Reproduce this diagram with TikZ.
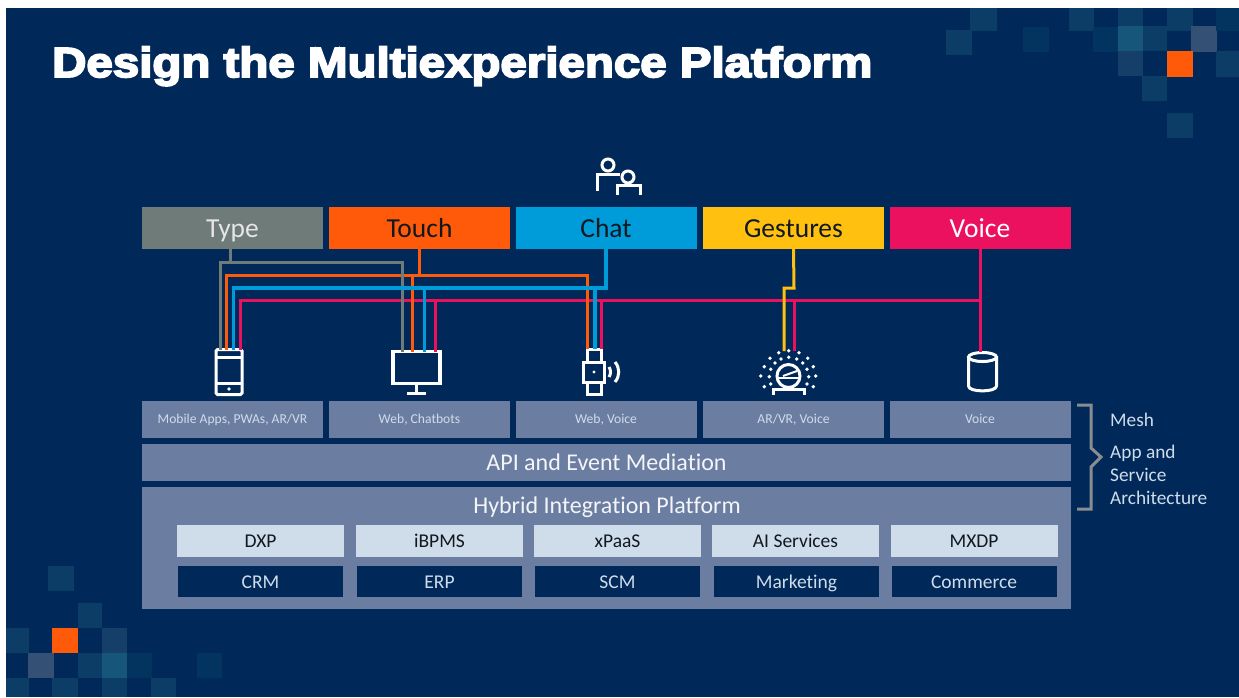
\documentclass[tikz,border=0pt]{standalone}
\usepackage{fontspec}
\setmainfont[Ligatures=NoCommon]{Carlito}
\newfontfamily\titlefont[BoldFeatures={FakeBold=4.5,FakeStretch=1.13}]{Liberation Sans}
\definecolor{slidebg}{HTML}{00295A}
\definecolor{tileA}{HTML}{03335F}
\definecolor{tileB}{HTML}{0B3D66}
\definecolor{tileC}{HTML}{16567A}
\definecolor{tileD}{HTML}{345075}
\definecolor{tileE}{HTML}{153F68}
\definecolor{accent}{HTML}{FF5A0A}
\definecolor{typegray}{HTML}{6E7B78}
\definecolor{chatblue}{HTML}{009CDA}
\definecolor{gestyellow}{HTML}{FFC00F}
\definecolor{voicepink}{HTML}{EC115E}
\definecolor{slate}{HTML}{6B7EA2}
\definecolor{pale}{HTML}{CFDCEA}
\definecolor{bracketgray}{HTML}{8A8D8F}
\definecolor{darktext}{HTML}{101820}
\tikzset{
  modebox/.style={minimum width=181,minimum height=42,inner sep=0,outer sep=0,font=\fontsize{27.5}{28}\selectfont,text height=19.5,text depth=1.5},
  channelbox/.style={fill=slate,minimum width=181,minimum height=37,inner sep=0,outer sep=0,text=pale,font=\fontsize{13.6}{14}\selectfont,text height=10,text depth=2},
  layerbox/.style={fill=slate,minimum width=929,inner sep=0,outer sep=0,text=white!92!slate,font=\fontsize{24}{24}\selectfont},
  palebox/.style={fill=pale,minimum width=167,minimum height=32,inner sep=0,outer sep=0,text=darktext,font=\fontsize{19.5}{20}\selectfont,text height=15,text depth=2},
  darkbox/.style={fill=slidebg,minimum width=165,minimum height=31,inner sep=0,outer sep=0,text=pale,font=\fontsize{19.5}{20}\selectfont,text height=15,text depth=2},
  sidelabel/.style={anchor=base west,inner sep=0,text=pale,font=\fontsize{19.3}{20}\selectfont},
  wire/.style={line width=3},
  icon/.style={white,line width=3},
  iconnode/.style={draw=white,line width=3,inner sep=0,outer sep=0}
}
\begin{document}
\begin{tikzpicture}[x=1pt,y=-1pt]
\useasboundingbox (0,0) rectangle (1239,697);
\fill [white] (0,0) rectangle (1239,697);
\fill [slidebg] (6,8) rectangle (1239,697);

% top right tiles
\fill [tileB] (970,8) rectangle (997,31);
\fill [tileB] (946,30) rectangle (972,55);
\fill [tileA] (1023,27) rectangle (1049,52);
\fill [tileB] (1069,8) rectangle (1094,31);
\fill [tileA] (1093,27) rectangle (1118,52);
\fill [tileB] (1118,8) rectangle (1143,26);
\fill [tileC] (1118,26) rectangle (1143,51);
\fill [tileB] (1143,26) rectangle (1167,51);
\fill [tileB] (1167,8) rectangle (1193,31);
\fill [tileD] (1191,26) rectangle (1217,52);
\fill [tileA] (1216,8) rectangle (1239,31);
\fill [tileE] (1118,51) rectangle (1143,76);
\fill [accent] (1167,51) rectangle (1193,77);
\fill [tileB] (1216,51) rectangle (1239,77);
\fill [tileB] (1142,76) rectangle (1167,101);
\fill [tileB] (1167,113) rectangle (1193,138);

% bottom left tiles
\fill [tileB] (48,566) rectangle (74,591);
\fill [tileB] (78,603) rectangle (102,628);
\fill [tileB] (6,628) rectangle (29,653);
\fill [accent] (52,628) rectangle (78,653);
\fill [tileE] (102,628) rectangle (127,653);
\fill [tileD] (28,653) rectangle (54,678);
\fill [tileB] (78,653) rectangle (102,678);
\fill [tileC] (102,653) rectangle (127,678);
\fill [tileA] (127,653) rectangle (152,678);
\fill [tileA] (197,653) rectangle (222,678);
\fill [tileB] (6,678) rectangle (29,697);
\fill [tileB] (52,678) rectangle (78,697);
\fill [tileB] (102,678) rectangle (127,697);
\fill [tileB] (151,678) rectangle (176,697);

\node [anchor=base west,inner sep=0,text=white,font=\titlefont\bfseries\fontsize{42}{42}\selectfont] (title) at (52,77) {Design the Multiexperience Platform};

% users icon
\draw [icon] (608,165) circle (6);
\draw [icon] (628,177) circle (6);
\draw [icon] (597,191) -- (597,174) -- (620,174);
\draw [icon] (617,195) -- (617,185) -- (640,185) -- (640,195);

% input modes
\node [modebox,fill=typegray,text=white!90!black] (type) at (232.5,228) {Type};
\node [modebox,fill=accent,text=darktext] (touch) at (419.5,228) {Touch};
\node [modebox,fill=chatblue,text=darktext] (chat) at (606,228) {Chat};
\node [modebox,fill=gestyellow,text=darktext] (gestures) at (793.5,228) {Gestures};
\node [modebox,fill=voicepink,text=white] (voice) at (980,228) {Voice};

% devices
\node [iconnode,rounded corners=1.5,minimum width=26,minimum height=45] (phone) at (229,372) {};
\draw [icon] (215,357) -- (243,357);
\draw [icon] (215,383) -- (243,383);
\fill [white] (229,389) circle (1.8);
\node [iconnode,line width=3.5,minimum width=47,minimum height=32] (monitor) at (416.5,367.5) {};
\draw [icon] (416.5,384) -- (416.5,393);
\draw [icon] (407,393) -- (426,393);
\node [iconnode,minimum width=14,minimum height=13] (strap) at (594.5,355.5) {};
\node [iconnode,minimum width=21,minimum height=20] (watch) at (594,372) {};
\node [iconnode,minimum width=14,minimum height=12] (strapb) at (594.5,388) {};
\fill [white] (594,372) circle (1.6);
\draw [icon] (609,367) .. controls (611,370) and (611,374) .. (609,377);
\draw [icon] (615,362) .. controls (620,368) and (620,376) .. (615,382);
\node [iconnode,circle,minimum size=23] (globe) at (788.5,376) {};
\draw [icon,line width=2] (776,378) -- (801,378);
\draw [icon,line width=2] (783,376) -- (797,371);
\draw [icon] (773,395) -- (773,389) -- (804,389) -- (804,395);
\fill [white] (760.7,376) circle (1.9);
\fill [white] (764.3,366.7) circle (1.9);
\fill [white] (770,358.3) circle (1.9);
\fill [white] (778.7,352.7) circle (1.9);
\fill [white] (788.7,350.7) circle (1.9);
\fill [white] (799,352.7) circle (1.9);
\fill [white] (807.7,358.3) circle (1.9);
\fill [white] (813.3,366.7) circle (1.9);
\fill [white] (815.7,376) circle (1.9);
\fill [white] (813.3,386.7) circle (1.9);
\fill [white] (764.3,386.7) circle (1.9);
\fill [white] (769.3,376.7) circle (1.9);
\fill [white] (770.7,369.3) circle (1.9);
\fill [white] (775,363) circle (1.9);
\fill [white] (781,359) circle (1.9);
\fill [white] (788.7,357.3) circle (1.9);
\fill [white] (796.7,359) circle (1.9);
\fill [white] (802.7,363) circle (1.9);
\fill [white] (807,369.3) circle (1.9);
\fill [white] (808.7,376.7) circle (1.9);
\fill [white] (807,384) circle (1.9);
\fill [white] (770.7,384) circle (1.9);
\coordinate (globetop) at (788.5,351);
\coordinate (canister) at (981.5,352);
\draw [icon] (982.5,357) circle [x radius=14,y radius=4.5];
\draw [icon] (968.5,357) -- (968.5,386) .. controls (968.5,392.5) and (996.5,392.5) .. (996.5,386) -- (996.5,357);

% wires
\coordinate (grayL) at (220,262);
\coordinate (grayR) at (402,262);
\coordinate (orangeL) at (226.5,275);
\coordinate (orangeM) at (412,275);
\coordinate (orangeR) at (587,275);
\coordinate (blueL) at (233.5,288);
\coordinate (blueM) at (424,288);
\coordinate (blueR) at (595,288);
\coordinate (pinkL) at (240,300);
\coordinate (pinkM) at (435,300);
\coordinate (pinkR) at (601,300);
\coordinate (pinkG) at (794,300);
\coordinate (yellowA) at (794,288);
\coordinate (yellowB) at (784,288);
\draw [wire,voicepink] (voice.south) |- (pinkL) -- (pinkL |- phone.north);
\draw [wire,voicepink] (pinkM) -- (pinkM |- monitor.north);
\draw [wire,voicepink] (pinkR) -- (pinkR |- strap.north);
\draw [wire,voicepink] (pinkG) -- (pinkG |- globetop);
\draw [wire,voicepink] (voice.south) -- (voice.south |- canister);
\draw [wire,accent] (touch.south) |- (orangeL) -- (orangeL |- phone.north);
\draw [wire,accent] (orangeM) -- (orangeM |- monitor.north);
\draw [wire,accent] (touch.south) |- (orangeR) -- (orangeR |- strap.north);
\draw [wire,typegray] ([xshift=-2.5]type.south) |- (grayL) -- (grayL |- phone.north);
\draw [wire,typegray] ([xshift=-2.5]type.south) |- (grayR) -- (grayR |- monitor.north);
\draw [wire,chatblue,line width=3.4] (chat.south) |- (blueL) -- (blueL |- phone.north);
\draw [wire,chatblue] (blueM) -- (blueM |- monitor.north);
\draw [wire,chatblue,line width=3.4] (blueR) -- (blueR |- strap.north);
\draw [wire,gestyellow] (gestures.south) -- (yellowA) -- (yellowB) -- (yellowB |- globetop);

% channels
\node [channelbox] (mobile) at (232.5,419.5) {Mobile Apps, PWAs, AR/VR};
\node [channelbox] (web) at (419.5,419.5) {Web, Chatbots};
\node [channelbox] (webvoice) at (606,419.5) {Web, Voice};
\node [channelbox] (arvr) at (793.5,419.5) {AR/VR, Voice};
\node [channelbox] (voiceonly) at (980,419.5) {Voice};

\node [layerbox,minimum height=37] (api) at (606.5,462.5) {API and Event Mediation};
\node [layerbox,minimum height=122] (hip) at (606.5,548) {};
\node [anchor=center,inner sep=0,text=white!92!slate,font=\fontsize{24}{24}\selectfont] (hiplabel) at (607,507) {Hybrid Integration Platform};

\node [palebox] (dxp) at (260.5,541) {DXP};
\node [palebox] (ibpms) at (439.5,541) {iBPMS};
\node [palebox] (xpaas) at (617.5,541) {xPaaS};
\node [palebox] (ai) at (795.5,541) {AI Services};
\node [palebox] (mxdp) at (974,541) {MXDP};
\node [darkbox] (crm) at (260.5,581.5) {CRM};
\node [darkbox] (erp) at (439.5,581.5) {ERP};
\node [darkbox] (scm) at (617.5,581.5) {SCM};
\node [darkbox] (marketing) at (796.5,581.5) {Marketing};
\node [darkbox] (commerce) at (974,581.5) {Commerce};

% bracket
\draw [bracketgray,line width=3] (1077,405) -- (1091,405) -- (1091,448) -- (1101,457) -- (1091,467) -- (1091,509) -- (1077,509);
\node [sidelabel] (mesh) at (1110,426) {Mesh};
\node [sidelabel] (appand) at (1110,458) {App and};
\node [sidelabel] (service) at (1110,481) {Service};
\node [sidelabel] (archi) at (1110,504) {Architecture};
\end{tikzpicture}
\end{document}
